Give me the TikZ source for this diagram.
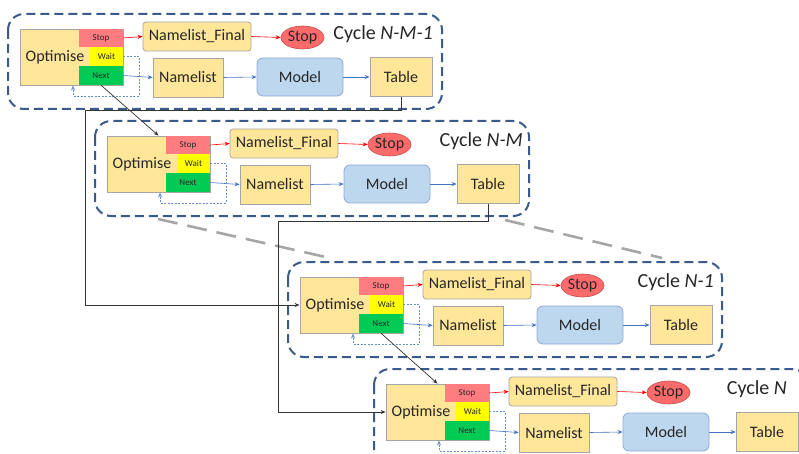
\documentclass[tikz,border=0pt]{standalone}
\usepackage{fontspec}
\setmainfont{Carlito}
\usepackage{tikz}
\usetikzlibrary{arrows.meta,shapes.geometric}
\usepackage{xcolor}

\definecolor{boxyellow}{HTML}{FFE699}
\definecolor{boxgray}{HTML}{A5A5A5}
\definecolor{modelblue}{HTML}{BDD7EE}
\definecolor{modelline}{HTML}{8EA9DB}
\definecolor{stopred}{HTML}{FF7C80}
\definecolor{waityellow}{HTML}{FFFF00}
\definecolor{nextgreen}{HTML}{00CC55}
\definecolor{ovalred}{HTML}{FF6B6B}
\definecolor{ovalline}{HTML}{C05050}
\definecolor{flowblue}{HTML}{4472C4}
\definecolor{framenavy}{HTML}{3A5A8C}
\definecolor{textdark}{HTML}{262626}

\tikzset{
  ybox/.style={draw=boxgray, fill=boxyellow, line width=0.8pt, inner sep=0pt,
    text=textdark, font=\fontsize{16}{18}\selectfont},
  mbox/.style={draw=modelline, fill=modelblue, line width=0.8pt, rounded corners=6pt,
    inner sep=0pt, text=textdark, font=\fontsize{16}{18}\selectfont},
  sig/.style={inner sep=0pt, text=textdark, font=\fontsize{9}{10}\selectfont},
  oval/.style={ellipse, draw=ovalline, fill=ovalred, line width=0.6pt, inner sep=0pt,
    text=textdark, font=\fontsize{16}{18}\selectfont},
  redarrow/.style={draw=red, line width=0.6pt, -{Stealth[length=5pt,width=4pt]}},
  bluearrow/.style={draw=flowblue, line width=0.6pt, -{Stealth[length=5pt,width=4pt]}},
  loopline/.style={draw=flowblue!80, line width=0.5pt, dash pattern=on 2pt off 1.5pt,
    -{Stealth[length=5pt,width=4pt]}},
  cyclebox/.style={draw=framenavy, line width=2pt, dash pattern=on 9pt off 5pt,
    rounded corners=16pt},
  link/.style={draw=black!80, line width=0.7pt, -{Stealth[length=5pt,width=4pt]}},
  gap/.style={draw=black!35, line width=2.6pt, dash pattern=on 20pt off 10pt}
}

\begin{document}
\begin{tikzpicture}[x=1pt,y=-1pt]
  \useasboundingbox (0,0) rectangle (799,454);
  \clip (0,0) rectangle (799,454);

  % elided cycles
  \draw[gap] (158,219) -- (330,258);
  \draw[gap] (505,220) -- (662,258);

  % one cycle per shift
  \foreach \i/\px/\py/\lbl/\lx in {1/20/29/{N-M-1}/413, 2/107/136/{N-M}/416,
      3/300/277/{N-1}/414, 4/386/384/{N}/401}{
    \begin{scope}[shift={(\px,\py)}]
      % frame
      \draw[cyclebox] (-12,-15) rectangle (422,80);
      \node[font=\fontsize{20}{22}\selectfont, text=textdark, anchor=east, inner sep=0pt]
        (cyc\i) at (\lx,5) {Cycle \textit{\lbl}};

      % optimiser with its three outputs
      \node[ybox, minimum width=103pt, minimum height=56pt] (opt\i) at (51.5,28) {};
      \node[text=textdark, font=\fontsize{16}{18}\selectfont, inner sep=0pt]
        (optlbl\i) at (35,28) {Optimise};
      \node[sig, fill=stopred, minimum width=44pt, minimum height=18pt]
        (stp\i) at (81,9) {Stop};
      \node[sig, fill=waityellow, minimum width=33pt, minimum height=19pt]
        (wait\i) at (86.5,27.5) {Wait};
      \node[sig, fill=nextgreen, minimum width=44pt, minimum height=19pt]
        (next\i) at (81,46.5) {Next};

      % stop branch
      \node[ybox, rounded corners=3pt, minimum width=108pt, minimum height=29pt]
        (nfin\i) at (177,7.5) {Namelist\_Final};
      \node[oval, minimum width=43pt, minimum height=23pt] (end\i) at (282.5,8.5) {Stop};

      % next branch
      \node[ybox, minimum width=70pt, minimum height=39pt] (nml\i) at (168,48.5) {Namelist};
      \node[mbox, minimum width=86pt, minimum height=38pt] (mdl\i) at (280,48) {Model};
      \node[ybox, minimum width=62pt, minimum height=39pt] (tab\i) at (381,48) {Table};

      \draw[redarrow] (stp\i.east) -- (nfin\i.west);
      \draw[redarrow] (nfin\i.east) -- (end\i.west);
      \draw[bluearrow] (next\i.east) -- (nml\i.west);
      \draw[bluearrow] (nml\i.east) -- (mdl\i.west);
      \draw[bluearrow] (mdl\i.east) -- (tab\i.west);

      % wait loop
      \draw[loopline] (wait\i.east) -- ++(16,0) |- (53,67) -- (53,56.5);
    \end{scope}
  }

  % links between cycles
  \draw[link] (next1.south) -- (opt2.north);
  \draw[link] (next3.south) -- (opt4.north);
  \draw[link] (tab1.south) |- (85,110) |- (opt3.west);
  \draw[link] (tab2.south) |- (278,221) |- (opt4.west);
\end{tikzpicture}
\end{document}
